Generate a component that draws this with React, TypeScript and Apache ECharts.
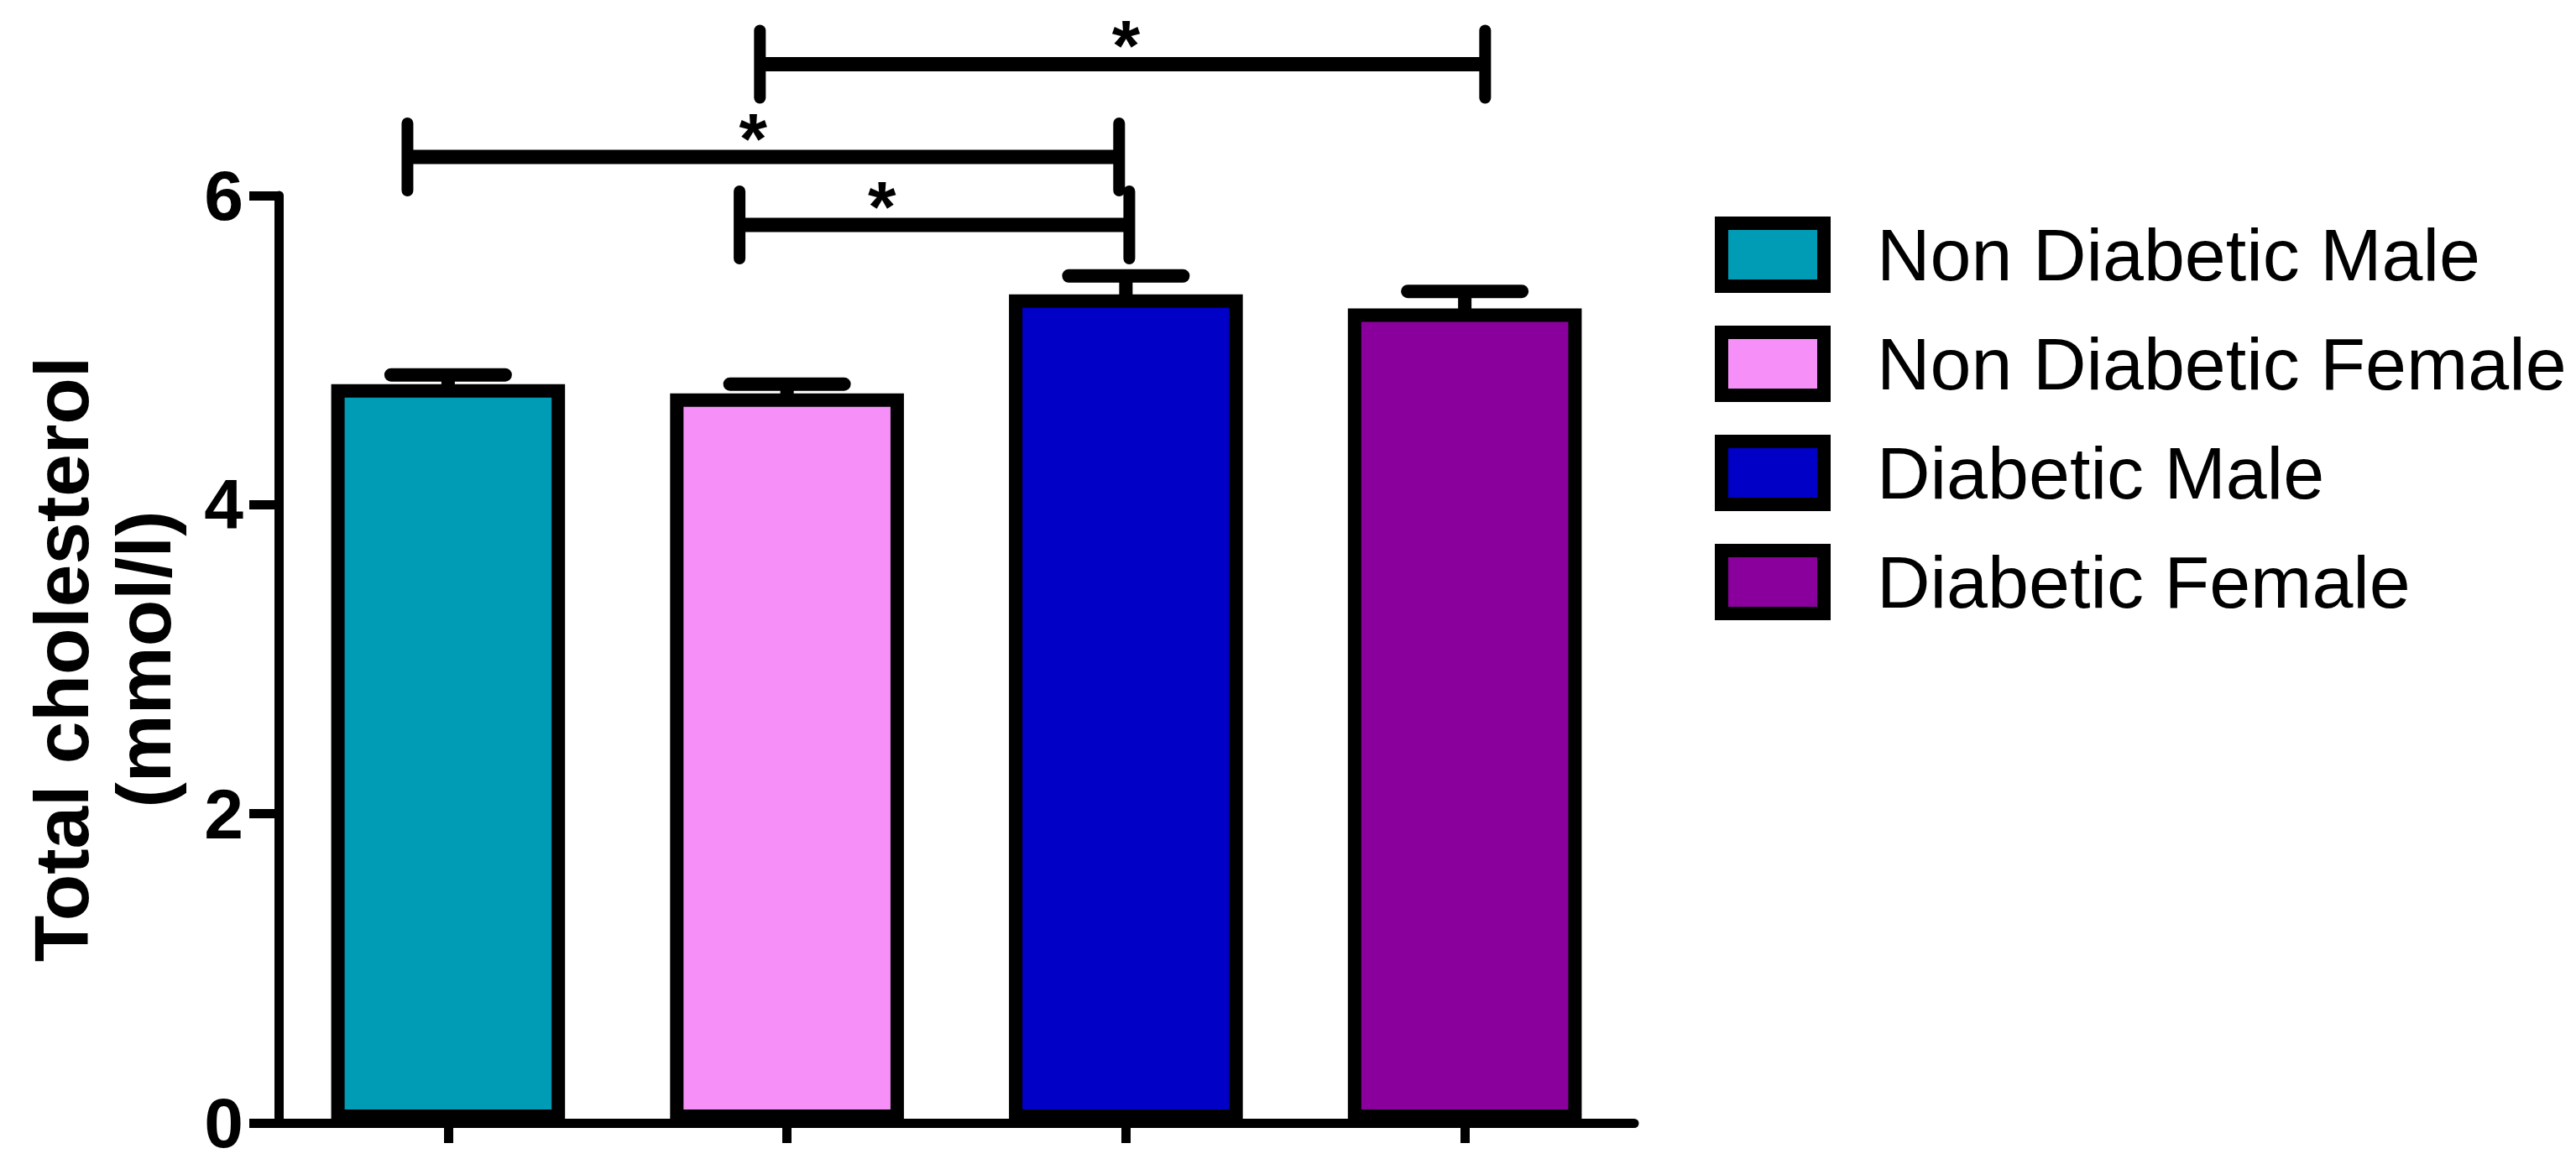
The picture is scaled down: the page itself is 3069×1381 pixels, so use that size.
import React, { useEffect, useRef } from "react";
import * as echarts from "echarts";

const categories = ["Non Diabetic Male", "Non Diabetic Female", "Diabetic Male", "Diabetic Female"];
const means = [4.78, 4.72, 5.36, 5.27];
const sems = [0.06, 0.06, 0.12, 0.11];
const colors = ["#009BB4", "#F690F8", "#0000C6", "#8A009C"];
const yMin = 0;
const yMax = 6;
const yInterval = 2;
// significance brackets: [left x, right x, y level, star x] in category-index units
const brackets = [
  [-0.12, 1.98, 6.25, 0.9],
  [0.86, 2.01, 5.81, 1.28],
  [0.92, 3.06, 6.85, 2.0],
];
const yAxisName = "Total cholesterol\n(mmol/l)";
const starLabel = "*";

const FONT = "'Liberation Sans', Arial, Helvetica, sans-serif";

export default function App() {
  const ref = useRef<HTMLDivElement>(null);
  useEffect(() => {
    if (!ref.current) return;
    const chart = echarts.init(ref.current, null, { renderer: "svg" });
    const barSeries = categories.map((name, i) => ({
      type: "bar",
      name,
      data: categories.map((_, j) => (j === i ? means[i] : "-")),
      barWidth: "69%",
      barGap: "-100%",
      itemStyle: { color: colors[i], borderColor: "#000", borderWidth: 16 },
      z: 3,
      silent: true,
    }));
    chart.setOption({
      animation: false,
      backgroundColor: "#fff",
      grid: { left: 332, right: 1122, top: 233, bottom: 43, containLabel: false },
      legend: {
        orient: "vertical",
        left: 2043,
        top: 258,
        padding: 0,
        itemWidth: 122,
        itemHeight: 75,
        itemGap: 39,
        icon: "rect",
        selectedMode: false,
        data: categories,
        itemStyle: { borderColor: "#000", borderWidth: 16 },
        textStyle: {
          fontFamily: FONT,
          fontSize: 88,
          color: "#000",
          lineHeight: 88,
          padding: [0, 0, 0, 58],
        },
      },
      xAxis: [
        {
          type: "category",
          data: categories,
          axisLine: { show: true, lineStyle: { color: "#000", width: 11 } },
          axisTick: { show: true, alignWithLabel: true, length: 24, lineStyle: { color: "#000", width: 11 } },
          axisLabel: { show: false },
          splitLine: { show: false },
        },
        {
          type: "value",
          min: -0.5,
          max: 3.5,
          show: false,
        },
      ],
      yAxis: {
        type: "value",
        min: yMin,
        max: yMax,
        interval: yInterval,
        name: yAxisName,
        nameLocation: "middle",
        nameRotate: 90,
        nameGap: 112,
        nameTextStyle: {
          fontFamily: FONT,
          fontWeight: "bold",
          fontSize: 91,
          lineHeight: 98,
          color: "#000",
          align: "center",
        },
        axisLine: { show: true, onZero: false, lineStyle: { color: "#000", width: 11 } },
        axisTick: { show: true, length: 35, lineStyle: { color: "#000", width: 11 } },
        axisLabel: { fontFamily: FONT, fontWeight: "bold", fontSize: 84, lineHeight: 66, color: "#000", margin: 42 },
        splitLine: { show: false },
      },
      series: [
        ...barSeries,
        {
          type: "custom",
          name: "errors",
          xAxisIndex: 0,
          yAxisIndex: 0,
          z: 2,
          silent: true,
          clip: false,
          data: means.map((m, i) => [i, m, sems[i]]),
          renderItem: (params: any, api: any) => {
            const x = api.value(0);
            const m = api.value(1);
            const e = api.value(2);
            const p0 = api.coord([x, m]);
            const p1 = api.coord([x, m + e]);
            const half = 68;
            return {
              type: "group",
              children: [
                {
                  type: "line",
                  shape: { x1: p0[0], y1: p0[1] + 10, x2: p1[0], y2: p1[1] },
                  style: { stroke: "#000", lineWidth: 16 },
                },
                {
                  type: "line",
                  shape: { x1: p1[0] - half, y1: p1[1], x2: p1[0] + half, y2: p1[1] },
                  style: { stroke: "#000", lineWidth: 16, lineCap: "round" },
                },
              ],
            };
          },
        },
        {
          type: "custom",
          name: "significance",
          xAxisIndex: 1,
          yAxisIndex: 0,
          z: 4,
          silent: true,
          clip: false,
          data: brackets,
          renderItem: (params: any, api: any) => {
            const a = api.coord([api.value(0), api.value(2)]);
            const b = api.coord([api.value(1), api.value(2)]);
            const s = api.coord([api.value(3), api.value(2)]);
            const h = 40;
            return {
              type: "group",
              children: [
                {
                  type: "line",
                  shape: { x1: a[0], y1: a[1], x2: b[0], y2: b[1] },
                  style: { stroke: "#000", lineWidth: 17 },
                },
                {
                  type: "line",
                  shape: { x1: a[0], y1: a[1] - h, x2: a[0], y2: a[1] + h },
                  style: { stroke: "#000", lineWidth: 14, lineCap: "round" },
                },
                {
                  type: "line",
                  shape: { x1: b[0], y1: b[1] - h, x2: b[0], y2: b[1] + h },
                  style: { stroke: "#000", lineWidth: 14, lineCap: "round" },
                },
                {
                  type: "text",
                  x: s[0],
                  y: s[1] - 22,
                  style: {
                    text: starLabel,
                    fontFamily: FONT,
                    fontWeight: "bold",
                    fontSize: 86,
                    fill: "#000",
                    align: "center",
                    verticalAlign: "middle",
                  },
                },
              ],
            };
          },
        },
      ],
    });
    return () => chart.dispose();
  }, []);
  return (
    <div
      ref={ref}
      style={{ position: "absolute", left: 0, top: 0, width: 3069, height: 1381, background: "#fff" }}
    />
  );
}
